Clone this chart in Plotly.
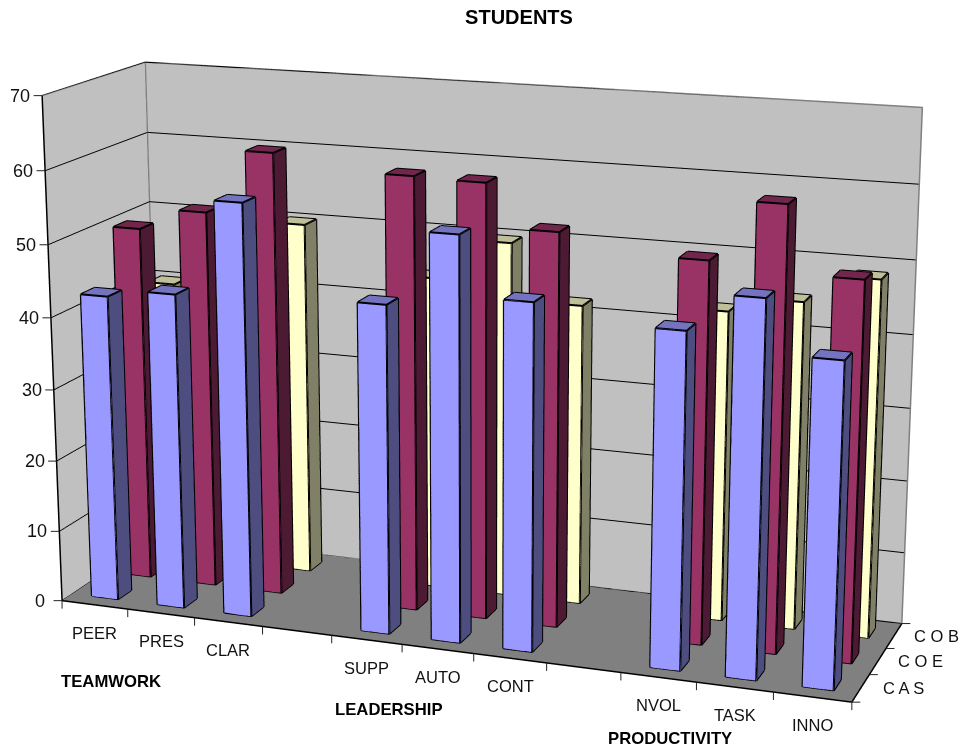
import plotly.graph_objects as go

# Chart content
CATEGORIES = ["PEER", "PRES", "CLAR", "", "SUPP", "AUTO", "CONT", "", "NVOL", "TASK", "INNO"]
GROUP_NAMES = ["TEAMWORK", "LEADERSHIP", "PRODUCTIVITY"]
SERIES = ["C A S", "C O E", "C O B"]
CAS = [42.8, 43.9, 57, None, 45, 55, 47, None, 45, 50, 43]
COE = [50, 53, 61.8, None, 60, 59.8, 54, None, 51.8, 59.8, 50.9]
COB = [40, 44, 50, None, 44, 49.7, 41.9, None, 42.8, 44.9, 48.7]
Z_TICKS = [0, 10, 20, 30, 40, 50, 60, 70]
TITLE = "STUDENTS"

# Styling and view
FRONT = ["#9999FF", "#993366", "#FFFFCC"]
SIDE = ["#4D4D80", "#4D1A33", "#808066"]
TOP = ["#7373BF", "#73264D", "#BFBF99"]
BAR_HALF = 0.2
GROUP_X = [0.745, 4.815, 8.65]
GROUP_DROP = [75, 67, 60]
FONT = "Liberation Sans"
PAGE_W = 962
# The scene canvas is taller than the page so the fixed 45 degree lens reads as a long one;
# the plot div is pulled up by CANVAS_SHIFT to bring the chart to the top of the window.
CANVAS_H = 2364
CANVAS_SHIFT = 825
EYE = (2.0303, -5.5852, 1.5748)
CENTER = (0.0141, -0.0141, 0.0175)
ASPECT = (1.7916, 0.4908, 1.1372)

NX, NY, ZMAX = len(CATEGORIES), len(SERIES), Z_TICKS[-1]
fig = go.Figure()

# Bars: one mesh plus one outline trace per series
FACES = [((0, 1, 5), FRONT), ((0, 5, 4), FRONT), ((1, 2, 6), SIDE), ((1, 6, 5), SIDE), ((4, 5, 6), TOP),
         ((4, 6, 7), TOP), ((3, 0, 4), SIDE), ((3, 4, 7), SIDE), ((2, 3, 7), SIDE), ((2, 7, 6), SIDE)]
EDGES = [(0, 1), (1, 2), (0, 4), (1, 5), (2, 6), (4, 5), (5, 6), (6, 7), (7, 4)]
for si, vals in enumerate([CAS, COE, COB]):
    X, Y, Z, I, J, K, C, lx, ly, lz = [], [], [], [], [], [], [], [], [], []
    for ci, v in enumerate(vals):
        if v is None:
            continue
        x0, x1 = ci + .5 - BAR_HALF, ci + .5 + BAR_HALF
        y0, y1 = si + .5 - BAR_HALF, si + .5 + BAR_HALF
        n = len(X)
        X += [x0, x1, x1, x0, x0, x1, x1, x0]
        Y += [y0, y0, y1, y1, y0, y0, y1, y1]
        Z += [0, 0, 0, 0, v, v, v, v]
        for (a, b, c), col in FACES:
            I.append(n + a)
            J.append(n + b)
            K.append(n + c)
            C.append(col[si])
        for a, b in EDGES:
            lx += [X[n + a], X[n + b], None]
            ly += [Y[n + a], Y[n + b], None]
            lz += [Z[n + a], Z[n + b], None]
    fig.add_trace(go.Mesh3d(x=X, y=Y, z=Z, i=I, j=J, k=K, facecolor=C, flatshading=True, name=SERIES[si],
                            lighting=dict(ambient=1, diffuse=0, specular=0, fresnel=0), hoverinfo="skip"))
    fig.add_trace(go.Scatter3d(x=lx, y=ly, z=lz, mode="lines", line=dict(color="black", width=4), hoverinfo="skip"))


def polyline(points, color, width):
    fig.add_trace(go.Scatter3d(x=[q[0] for q in points], y=[q[1] for q in points], z=[q[2] for q in points],
                               mode="lines", line=dict(color=color, width=width), hoverinfo="skip"))


# Box outline: grey on the walls, black along the axes
polyline([(0, 0, ZMAX), (0, NY, ZMAX), (NX, NY, ZMAX), (NX, NY, 0), (0, NY, 0), (0, NY, ZMAX)], "#808080", 3)
polyline([(0, NY, 0), (0, 0, 0)], "#808080", 3)
polyline([(0, 0, ZMAX), (0, 0, 0), (NX, 0, 0), (NX, NY, 0)], "black", 3)


def label(x, y, z, text, dx=0, dy=0, size=16.5, color="#111111"):
    return dict(x=x, y=y, z=z, text=text, showarrow=False, xshift=dx, yshift=dy,
                font=dict(family=FONT, size=size, color=color))


def tick(x, y, z, ax, ay):
    return dict(x=x, y=y, z=z, text=" ", showarrow=True, arrowhead=0, arrowwidth=1, arrowcolor="#222222",
                ax=ax, ay=ay, standoff=0, font=dict(size=1))


ann = []
for i in range(NX + 1):
    ann.append(tick(i, 0, 0, 0, 10))
for i in range(NY + 1):
    ann.append(tick(NX, i, 0, 10, 0))
for v in Z_TICKS:
    ann.append(tick(0, 0, v, -10, 0))
for i, name in enumerate(CATEGORIES):
    if name:
        ann.append(label(i + .5, 0, 0, name, dy=-28))
for name, x, drop in zip(GROUP_NAMES, GROUP_X, GROUP_DROP):
    ann.append(label(x, 0, 0, f"<b>{name}</b>", dy=-drop, size=16.7, color="black"))
for i, name in enumerate(SERIES):
    ann.append(label(NX, i + .5, 0, name, dx=43))
for v in Z_TICKS:
    ann.append(label(0, 0, v, str(v), dx=-22, size=18))


def axis(rng, tv, bg):
    return dict(range=rng, autorange=False, title=dict(text=""), tickmode="array", tickvals=tv, ticks="",
                showticklabels=False, showgrid=False, zeroline=False, showline=False,
                showbackground=True, backgroundcolor=bg, showspikes=False)


zaxis = axis([0, ZMAX], Z_TICKS, "#808080")
zaxis.update(showgrid=True, gridcolor="black", gridwidth=2)
fig.update_layout(
    width=PAGE_W, height=CANVAS_H, margin=dict(l=0, r=0, t=0, b=0), showlegend=False, paper_bgcolor="white",
    title=dict(text=f"<b>{TITLE}</b>", x=519 / PAGE_W, xanchor="center", y=1 - (17 + CANVAS_SHIFT) / CANVAS_H,
               yanchor="middle", font=dict(family=FONT, size=20, color="black")),
    font=dict(family=FONT),
    scene=dict(domain=dict(x=[0, 1], y=[0, 1]),
               xaxis=axis([0, NX], list(range(NX + 1)), "#C0C0C0"),
               yaxis=axis([0, NY], list(range(NY + 1)), "#C0C0C0"),
               zaxis=zaxis,
               aspectmode="manual", aspectratio=dict(zip("xyz", ASPECT)),
               camera=dict(eye=dict(zip("xyz", EYE)), center=dict(zip("xyz", CENTER)),
                           up=dict(x=0, y=0, z=1), projection=dict(type="perspective")),
               annotations=ann))
fig.write_html("out.html", config=dict(displayModeBar=False),
               post_script="document.documentElement.style.overflow='hidden';"
                           f"document.getElementById('{{plot_id}}').style.marginTop='-{CANVAS_SHIFT}px';")
